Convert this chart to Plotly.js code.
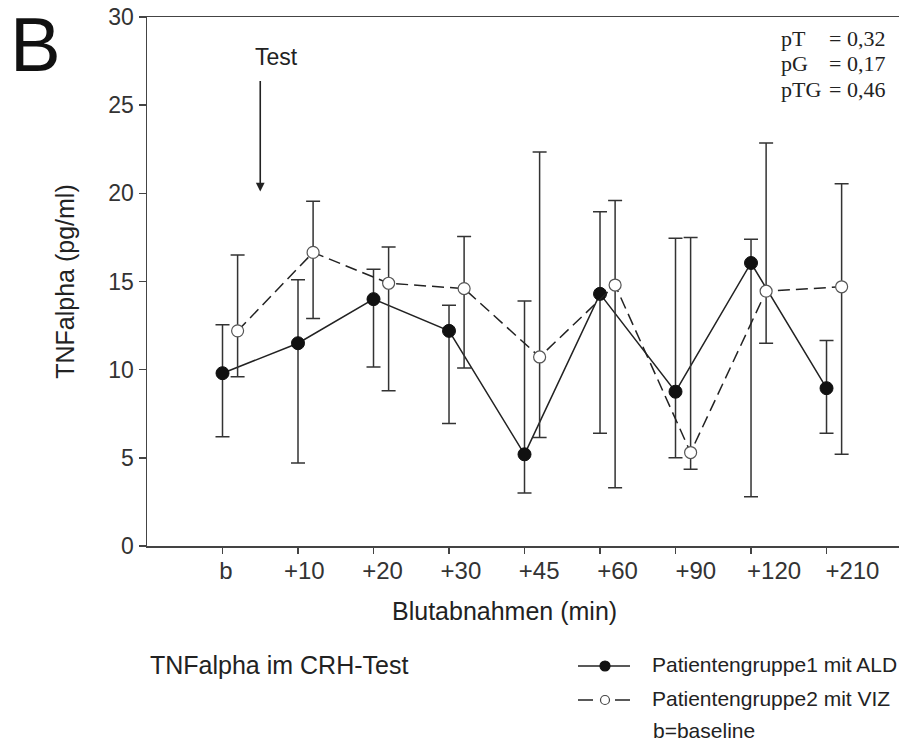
<!DOCTYPE html>
<html>
<head>
<meta charset="utf-8">
<script src="https://cdn.plot.ly/plotly-3.0.1.min.js"></script>
<style>
  html, body { margin: 0; padding: 0; background: #ffffff; }
  #chart { width: 899px; height: 743px; }
</style>
</head>
<body>
<div id="chart"></div>
<script>
// ---- data ----
var categories = ["b", "+10", "+20", "+30", "+45", "+60", "+90", "+120", "+210"];

// Patientengruppe1 mit ALD (filled circles, solid line)
var group1Mean  = [9.8, 11.5, 14.0, 12.2, 5.2, 14.3, 8.75, 16.05, 8.95];
var group1Upper = [12.55, 15.1, 15.7, 13.65, 13.9, 18.95, 17.45, 17.4, 11.65];
var group1Lower = [6.2, 4.7, 10.15, 6.95, 3.0, 6.4, 5.0, 2.8, 6.4];

// Patientengruppe2 mit VIZ (open circles, dashed line)
var group2Mean  = [12.2, 16.65, 14.9, 14.6, 10.72, 14.8, 5.3, 14.45, 14.7];
var group2Upper = [16.5, 19.55, 16.95, 17.55, 22.35, 19.6, 17.5, 22.85, 20.55];
var group2Lower = [9.6, 12.9, 8.8, 10.1, 6.15, 3.3, 4.35, 11.5, 5.2];

var pLabels = ["pT", "pG", "pTG"];
var pValues = ["= 0,32", "= 0,17", "= 0,46"];

// ---- layout helpers ----
var W = 899, H = 743;
var M = {l: 147, r: 0, t: 17, b: 197};
var PW = W - M.l - M.r, PH = H - M.t - M.b;
function px(xp) { return (xp - M.l) / PW; }
function py(yp) { return (H - M.b - yp) / PH; }

var idx = categories.map(function (c, i) { return i; });
var offset2 = 0.2;

function plus(mean, upper) { return upper.map(function (u, i) { return u - mean[i]; }); }
function minus(mean, lower) { return lower.map(function (l, i) { return mean[i] - l; }); }

var ink = "#222222";
var sans = "Liberation Sans, Arial, sans-serif";
var serif = "Liberation Serif, Times New Roman, serif";

var trace1 = {
  x: idx,
  y: group1Mean,
  type: "scatter",
  mode: "lines+markers",
  name: "Patientengruppe1 mit ALD",
  line: {color: ink, width: 1.5},
  marker: {symbol: "circle", size: 13, color: "#111111", line: {color: "#111111", width: 1}},
  error_y: {
    type: "data", symmetric: false,
    array: plus(group1Mean, group1Upper),
    arrayminus: minus(group1Mean, group1Lower),
    color: "#333333", thickness: 1.5, width: 7
  },
  showlegend: false,
  cliponaxis: false
};

var trace2 = {
  x: idx.map(function (i) { return i + offset2; }),
  y: group2Mean,
  type: "scatter",
  mode: "lines+markers",
  name: "Patientengruppe2 mit VIZ",
  line: {color: ink, width: 1.5, dash: "12px,6px"},
  marker: {symbol: "circle", size: 12, color: "#ffffff", line: {color: "#555555", width: 1.2}},
  error_y: {
    type: "data", symmetric: false,
    array: plus(group2Mean, group2Upper),
    arrayminus: minus(group2Mean, group2Lower),
    color: "#333333", thickness: 1.5, width: 7
  },
  showlegend: false,
  cliponaxis: false
};

// invisible carrier trace so the label axis (xaxis2) is drawn
var labelCarrier = {
  x: idx, y: group1Mean, xaxis: "x2", yaxis: "y",
  type: "scatter", mode: "markers",
  marker: {opacity: 0}, hoverinfo: "skip", showlegend: false
};

var annotations = [
  {text: "B", xref: "paper", yref: "paper", x: px(35), y: py(45), showarrow: false,
   xanchor: "center", yanchor: "middle", font: {family: sans, size: 76, color: "#111111"}},
  {text: "Test", xref: "paper", yref: "paper", x: px(276), y: py(57), showarrow: false,
   xanchor: "center", yanchor: "middle", font: {family: sans, size: 23, color: ink}},
  {text: "", xref: "x", yref: "y", x: 0.5, y: 20.1, ax: 0, ay: -112, axref: "pixel", ayref: "pixel",
   showarrow: true, arrowhead: 2, arrowsize: 1.1, arrowwidth: 1.6, arrowcolor: ink},
  {text: "Blutabnahmen (min)", xref: "paper", yref: "paper", x: px(504), y: py(611), showarrow: false,
   xanchor: "center", yanchor: "middle", font: {family: sans, size: 25, color: ink}},
  {text: "TNFalpha im CRH-Test", xref: "paper", yref: "paper", x: px(148), y: py(665), showarrow: false,
   xanchor: "left", yanchor: "middle", font: {family: sans, size: 25, color: ink}},
  {text: "Patientengruppe1 mit ALD", xref: "paper", yref: "paper", x: px(650), y: py(664), showarrow: false,
   xanchor: "left", yanchor: "middle", font: {family: sans, size: 21, color: ink}},
  {text: "Patientengruppe2 mit VIZ", xref: "paper", yref: "paper", x: px(650), y: py(698), showarrow: false,
   xanchor: "left", yanchor: "middle", font: {family: sans, size: 21, color: ink}},
  {text: "b=baseline", xref: "paper", yref: "paper", x: px(651), y: py(730), showarrow: false,
   xanchor: "left", yanchor: "middle", font: {family: sans, size: 21, color: ink}}
];

var pRowsY = [38, 64, 90];
pLabels.forEach(function (lab, i) {
  annotations.push({text: lab, xref: "paper", yref: "paper", x: px(779), y: py(pRowsY[i]), showarrow: false,
    xanchor: "left", yanchor: "middle", font: {family: serif, size: 22, color: ink}});
  annotations.push({text: pValues[i], xref: "paper", yref: "paper", x: px(887), y: py(pRowsY[i]), showarrow: false,
    xanchor: "right", yanchor: "middle", font: {family: serif, size: 22, color: ink}});
});

function circ(cx, cy, r, fill, lineCol) {
  return {type: "circle", xref: "paper", yref: "paper",
    x0: px(cx - r), x1: px(cx + r), y0: py(cy + r), y1: py(cy - r),
    fillcolor: fill, line: {color: lineCol, width: 1.2}};
}
function seg(x0, x1, y) {
  return {type: "line", xref: "paper", yref: "paper", x0: px(x0), x1: px(x1), y0: py(y), y1: py(y),
    line: {color: ink, width: 1.5}};
}

var shapes = [
  seg(578, 630, 666),
  circ(605, 666, 5, "#111111", "#111111"),
  seg(578, 593, 700),
  seg(615, 630, 700),
  circ(605, 700, 4.5, "#ffffff", "#444444")
];

var layout = {
  width: W, height: H,
  margin: M,
  paper_bgcolor: "#ffffff",
  plot_bgcolor: "#ffffff",
  showlegend: false,
  font: {family: sans, color: ink},
  xaxis: {
    range: [-1, 8.96],
    tickmode: "array",
    tickvals: idx,
    ticktext: categories,
    showticklabels: false,
    showgrid: false, zeroline: false,
    showline: true, linecolor: "#444444", linewidth: 1.5,
    mirror: true,
    ticks: "outside", ticklen: 6, tickwidth: 1.5, tickcolor: "#444444"
  },
  // label axis: the printed tick labels sit on a slightly wider spacing than the ticks
  xaxis2: {
    overlaying: "x", side: "bottom", anchor: "y",
    range: [-1.009, 8.595],
    tickmode: "array",
    tickvals: idx,
    ticktext: categories,
    showgrid: false, zeroline: false, showline: false,
    ticks: "outside", ticklen: 3, tickcolor: "rgba(0,0,0,0)",
    tickfont: {family: sans, size: 24, color: "#333333"}
  },
  yaxis: {
    range: [0, 30],
    tickmode: "array",
    tickvals: [0, 5, 10, 15, 20, 25, 30],
    showgrid: false, zeroline: false,
    showline: true, linecolor: "#444444", linewidth: 1.5,
    ticks: "outside", ticklen: 7, tickwidth: 1.5, tickcolor: "#444444",
    tickfont: {family: sans, size: 23, color: "#333333"},
    title: {text: "TNFalpha (pg/ml)", font: {family: sans, size: 25, color: ink}, standoff: 26}
  },
  annotations: annotations,
  shapes: shapes
};

Plotly.newPlot("chart", [trace1, trace2, labelCarrier], layout, {displayModeBar: false, staticPlot: true});
</script>
</body>
</html>
